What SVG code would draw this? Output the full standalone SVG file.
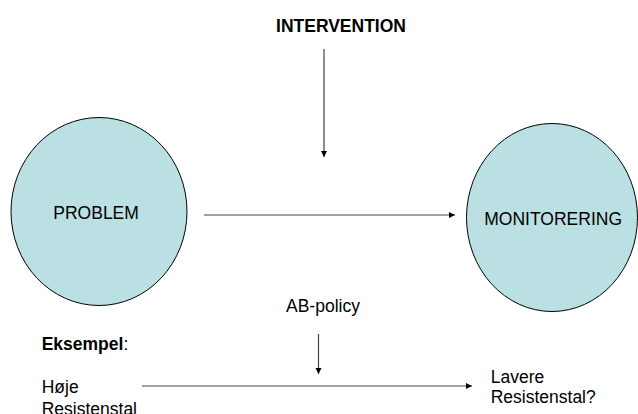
<svg xmlns="http://www.w3.org/2000/svg" width="638" height="414" viewBox="0 0 638 414">
<style>
.node{fill:#bbe0e3;stroke:#000;stroke-width:1}
.t{font-family:"Liberation Sans",Arial,sans-serif;font-size:17.5px;fill:#000}
.b{font-weight:bold}
.c{stroke:#444;stroke-width:1.2;fill:none;marker-end:url(#ah)}
</style>
<defs>
<marker id="ah" markerUnits="userSpaceOnUse" markerWidth="8" markerHeight="8" refX="6" refY="3" orient="auto">
<path d="M0,0 L6,3 L0,6 z" fill="#000"/>
</marker>
</defs>
<rect width="638" height="414" fill="#fff"/>
<g id="connectors">
<line class="c" x1="324" y1="49" x2="324" y2="157"/>
<line class="c" x1="204" y1="215" x2="455" y2="215"/>
<line class="c" x1="318.5" y1="334" x2="318.5" y2="374"/>
<line class="c" x1="142" y1="386" x2="472" y2="386"/>
</g>
<g id="problem">
<ellipse class="node" cx="99" cy="211.5" rx="88" ry="94"/>
<text class="t" x="53.3" y="219">PROBLEM</text>
</g>
<g id="monitorering">
<ellipse class="node" cx="552" cy="217.5" rx="85.5" ry="94"/>
<text class="t" x="484.3" y="225">MONITORERING</text>
</g>
<g id="intervention">
<text class="t b" x="341" y="31.5" text-anchor="middle">INTERVENTION</text>
</g>
<g id="ab-policy">
<text class="t" x="286" y="311.5">AB-policy</text>
</g>
<g id="eksempel">
<text class="t" x="41.7" y="350"><tspan class="b">Eksempel</tspan>:</text>
</g>
<g id="hoje">
<text class="t" x="41.7" y="393">Høje</text>
<text class="t" x="41.7" y="415">Resistenstal</text>
</g>
<g id="lavere">
<text class="t" x="490.7" y="383.3">Lavere</text>
<text class="t" x="490.7" y="403.3">Resistenstal?</text>
</g>
</svg>
